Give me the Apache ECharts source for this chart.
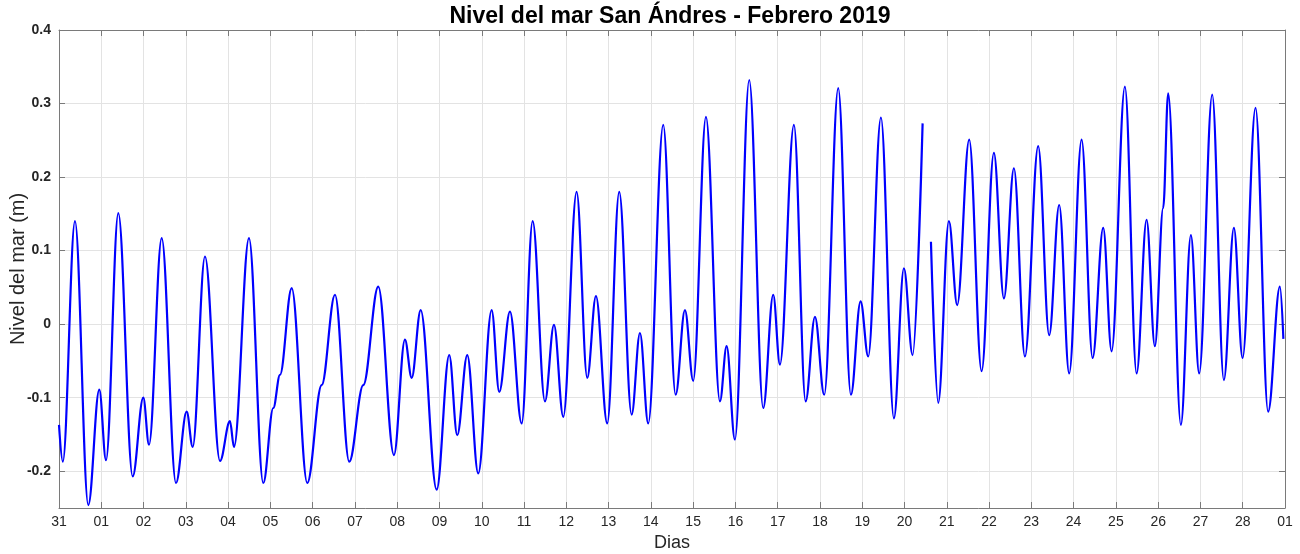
<!DOCTYPE html>
<html>
<head>
<meta charset="utf-8">
<script src="https://cdn.jsdelivr.net/npm/echarts@6/dist/echarts.min.js"></script>
<style>
html,body{margin:0;padding:0;background:#fff;}
#chart{width:1300px;height:554px;}
</style>
</head>
<body>
<div id="chart"></div>
<script>
// Days since 31 Jan 00:00
const days = [0, 0.09, 0.378, 0.693, 0.953, 1.112, 1.403, 1.743, 1.994, 2.129, 2.429, 2.767, 3.020, 3.162, 3.453, 3.808, 4.044, 4.139, 4.494, 4.832, 5.069, 5.227, 5.504, 5.873, 6.213, 6.528, 6.866, 7.197, 7.552, 7.923, 8.183, 8.342, 8.555, 8.933, 9.231, 9.420, 9.657, 9.917, 10.234, 10.414, 10.667, 10.944, 11.204, 11.495, 11.708, 11.928, 12.244, 12.495, 12.701, 12.968, 13.252, 13.545, 13.742, 13.938, 14.293, 14.586, 14.806, 15.002, 15.303, 15.634, 15.792, 15.988, 16.327, 16.658, 16.894, 17.053, 17.384, 17.661, 17.881, 18.101, 18.432, 18.732, 18.961, 19.141, 19.442, 19.749, 19.986, 20.191, 20.428, 20.53, 20.625, 20.797, 21.050, 21.246, 21.530, 21.823, 22.114, 22.351, 22.588, 22.848, 23.162, 23.422, 23.659, 23.895, 24.189, 24.449, 24.700, 24.898, 25.213, 25.490, 25.726, 25.922, 26.119, 26.237, 26.537, 26.774, 26.970, 27.278, 27.554, 27.791, 27.996, 28.303, 28.601, 28.879, 28.962];
// Sea level (m); null = data gap
const level = [-0.137, -0.187, 0.140, -0.246, -0.089, -0.185, 0.151, -0.207, -0.100, -0.164, 0.117, -0.216, -0.119, -0.167, 0.092, -0.186, -0.132, -0.167, 0.117, -0.216, -0.114, -0.069, 0.049, -0.216, -0.083, 0.040, -0.187, -0.083, 0.051, -0.178, -0.021, -0.073, 0.019, -0.225, -0.042, -0.151, -0.042, -0.203, 0.019, -0.092, 0.017, -0.135, 0.140, -0.105, -0.001, -0.126, 0.180, -0.073, 0.038, -0.135, 0.180, -0.123, -0.012, -0.135, 0.271, -0.096, 0.019, -0.077, 0.282, -0.105, -0.030, -0.157, 0.332, -0.114, 0.040, -0.055, 0.271, -0.105, 0.010, -0.096, 0.321, -0.096, 0.031, -0.044, 0.281, -0.128, 0.076, -0.042, 0.273, null, 0.112, -0.107, 0.140, 0.026, 0.251, -0.064, 0.233, 0.035, 0.212, -0.044, 0.242, -0.015, 0.162, -0.067, 0.251, -0.046, 0.131, -0.037, 0.323, -0.067, 0.142, -0.030, 0.158, 0.314, -0.137, 0.121, -0.067, 0.312, -0.076, 0.131, -0.046, 0.294, -0.119, 0.051, -0.020];
const xTickLabels = ['31','01','02','03','04','05','06','07','08','09','10','11','12','13','14','15','16','17','18','19','20','21','22','23','24','25','26','27','28','01'];
const yTickValues = [-0.2, -0.1, 0, 0.1, 0.2, 0.3, 0.4];
const yTickLabels = ['-0.2', '-0.1', '0', '0.1', '0.2', '0.3', '0.4'];
const titleText = 'Nivel del mar San Ándres - Febrero 2019';
const xName = 'Dias';
const yName = 'Nivel del mar (m)';

const chart = echarts.init(document.getElementById('chart'), null, {renderer: 'canvas'});
const seriesData = days.map((d, i) => [d, level[i]]);
const axisColor = '#7a7a7a';
const labelColor = '#262626';
const gridColor = '#e3e3e3';
const FONT = 'Liberation Sans, Arial, sans-serif';

function yLabel(v) {
  for (let i = 0; i < yTickValues.length; i++) {
    if (Math.abs(v - yTickValues[i]) < 1e-6) return yTickLabels[i];
  }
  return '';
}

chart.setOption({
  animation: false,
  backgroundColor: '#ffffff',
  graphic: [{
    type: 'text', x: 670, y: 5,
    style: {text: titleText, textAlign: 'center', fontFamily: FONT, fontWeight: 'bold', fontSize: 23, fill: '#000'}
  }],
  grid: {left: 59, right: 15, top: 30, bottom: 46, containLabel: false, outerBoundsMode: 'none'},
  xAxis: [{
    type: 'value', min: 0, max: 29, interval: 1,
    name: xName, nameLocation: 'middle', nameGap: 26, nameMoveOverlap: false,
    nameTextStyle: {fontFamily: FONT, fontSize: 18, color: labelColor},
    axisLine: {show: true, onZero: false, lineStyle: {color: axisColor, width: 1}},
    axisTick: {show: true, inside: true, length: 6, lineStyle: {color: axisColor}},
    axisLabel: {fontFamily: FONT, fontSize: 14, color: labelColor, margin: 7,
      formatter: v => xTickLabels[Math.round(v)] || ''},
    splitLine: {show: true, lineStyle: {color: gridColor, width: 1}}
  }, {
    type: 'value', min: 0, max: 29, interval: 1, position: 'top',
    axisLine: {show: true, onZero: false, lineStyle: {color: axisColor, width: 1}},
    axisTick: {show: true, inside: true, length: 6, lineStyle: {color: axisColor}},
    axisLabel: {show: false}, splitLine: {show: false}
  }],
  yAxis: [{
    type: 'value', min: -0.25, max: 0.4, splitNumber: 7,
    name: yName, nameLocation: 'middle', nameGap: 31, nameRotate: 90, nameMoveOverlap: false,
    nameTextStyle: {fontFamily: FONT, fontSize: 20, color: labelColor},
    axisLine: {show: true, onZero: false, lineStyle: {color: axisColor, width: 1}},
    axisTick: {show: true, inside: true, length: 6, lineStyle: {color: axisColor}},
    axisLabel: {fontFamily: FONT, fontSize: 14, fontWeight: 'bold', color: labelColor, margin: 8,
      showMinLabel: false, formatter: yLabel},
    splitLine: {show: true, lineStyle: {color: gridColor, width: 1}}
  }, {
    type: 'value', min: -0.25, max: 0.4, splitNumber: 7, position: 'right',
    axisLine: {show: true, onZero: false, lineStyle: {color: axisColor, width: 1}},
    axisTick: {show: true, inside: true, length: 6, lineStyle: {color: axisColor}},
    axisLabel: {show: false}, splitLine: {show: false}
  }],
  series: [{
    type: 'line',
    xAxisIndex: 0, yAxisIndex: 0,
    data: seriesData,
    showSymbol: false,
    connectNulls: false,
    smooth: 0.36,
    smoothMonotone: 'x',
    lineStyle: {color: '#0000ff', width: 2.2},
    itemStyle: {color: '#0000ff'}
  }]
});
</script>
</body>
</html>
